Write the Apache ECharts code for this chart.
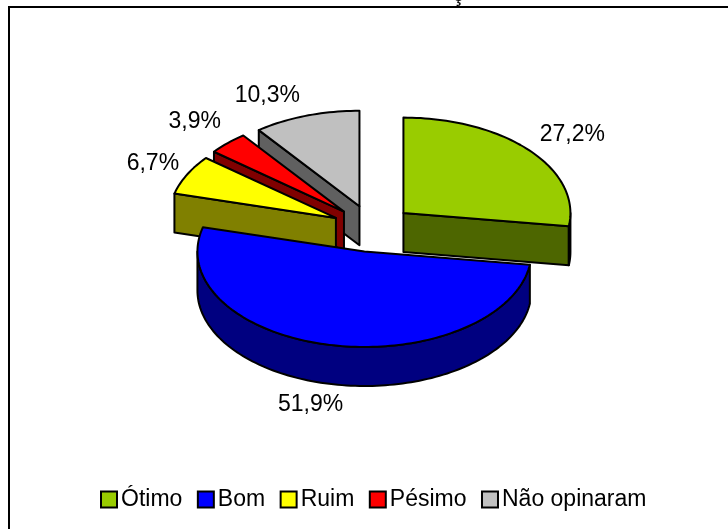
<!DOCTYPE html>
<html>
<head>
<meta charset="utf-8">
<style>
  html, body { margin: 0; padding: 0; background: #fff; }
  #pic { width: 728px; height: 529px; }
</style>
<script src="https://cdn.jsdelivr.net/npm/echarts@6/dist/echarts.min.js"></script>
</head>
<body>
<div id="pic"></div>
<script>
var categories = ['Ótimo', 'Bom', 'Ruim', 'Pésimo', 'Não opinaram'];
var values = [27.2, 51.9, 6.7, 3.9, 10.3];
var labels = ['27,2%', '51,9%', '6,7%', '3,9%', '10,3%'];
var topColors = ['#99CC00', '#0000FF', '#FFFF00', '#FF0000', '#C0C0C0'];
var sideColors = ['#4D6600', '#000080', '#808000', '#800000', '#606060'];

// pie layout, worked out from the slice tips
var cx = 372.5, cy = 228.5, rx = 167, ry = 95.5, depth = 39, explode = 41;
// label shift from the rim point at the slice's middle angle
var labelShift = [[43, -16], [-21, 60], [-34, -11], [-33, -21], [-39, -20]];
var fontFamily = '"Liberation Sans", Arial, sans-serif';
var font = '23px ' + fontFamily;

var total = values.reduce(function (a, b) { return a + b; }, 0);
var starts = [];
var sum = 0;
values.forEach(function (v) {
    starts.push(sum / total * 360);
    sum += v;
});

function rad(d) { return d * Math.PI / 180; }

function apexOf(i) {
    var mid = rad(starts[i] + values[i] / total * 180);
    return [cx + explode * Math.sin(mid), cy - explode * Math.cos(mid) * ry / rx];
}

function rimPoint(apex, deg, down) {
    return [apex[0] + rx * Math.sin(rad(deg)), apex[1] - ry * Math.cos(rad(deg)) + (down || 0)];
}

function arcPoints(apex, from, to, down) {
    var pts = [];
    var n = Math.max(2, Math.ceil((to - from) / 1.5));
    for (var k = 0; k <= n; k++) {
        pts.push(rimPoint(apex, from + (to - from) * k / n, down));
    }
    return pts;
}

function poly(points, fill) {
    return {
        type: 'polygon',
        shape: { points: points },
        style: { fill: fill, stroke: '#000', lineWidth: 2, lineJoin: 'round' }
    };
}

function radialWall(apex, deg, fill) {
    var p = rimPoint(apex, deg);
    return poly([apex, p, [p[0], p[1] + depth], [apex[0], apex[1] + depth]], fill);
}

function drawSlice(i, value) {
    var start = starts[i];
    var end = start + value / total * 360;
    var apex = apexOf(i);
    var kids = [];

    // only the faces turned to the viewer are drawn
    if (Math.sin(rad(start)) < -0.001) kids.push(radialWall(apex, start, sideColors[i]));
    if (Math.sin(rad(end)) > 0.001) kids.push(radialWall(apex, end, sideColors[i]));

    var a = Math.max(start, 90), b = Math.min(end, 270);
    if (b > a) {
        kids.push(poly(arcPoints(apex, a, b, 0).concat(arcPoints(apex, a, b, depth).reverse()), sideColors[i]));
    }
    kids.push(poly([apex].concat(arcPoints(apex, start, end, 0)), topColors[i]));

    var mid = rimPoint(apex, (start + end) / 2);
    kids.push({
        type: 'text',
        z2: 10,
        style: {
            x: mid[0] + labelShift[i][0],
            y: mid[1] + labelShift[i][1],
            text: labels[i],
            font: font,
            fill: '#000',
            align: 'center',
            verticalAlign: 'middle'
        }
    });
    return { type: 'group', children: kids };
}

// back slices first
var order = categories.map(function (c, i) { return i; }).sort(function (p, q) {
    return apexOf(p)[1] - apexOf(q)[1];
});

var series = categories.map(function (name, i) {
    return {
        name: name,
        type: 'custom',
        coordinateSystem: 'none',
        silent: true,
        animation: false,
        z: 2 + order.indexOf(i),
        itemStyle: { color: topColors[i] },
        data: [values[i]],
        renderItem: function (params, api) {
            return drawSlice(i, api.value(0));
        }
    };
});

var myChart = echarts.init(document.getElementById('pic'), null, { renderer: 'canvas' });
myChart.setOption({
    animation: false,
    backgroundColor: '#fff',
    graphic: [{
        type: 'rect',
        silent: true,
        shape: { x: 9, y: 7, width: 800, height: 600 },
        style: { fill: 'none', stroke: '#000', lineWidth: 2 }
    }, {
        // the title is cut off by the top of the picture, only this tail shows
        type: 'text',
        silent: true,
        style: { x: 458, y: 6, text: 'ç', font: font, fill: '#000', align: 'center', verticalAlign: 'bottom' }
    }],
    legend: {
        data: categories,
        left: 100,
        top: 488,
        itemWidth: 16,
        itemHeight: 16,
        itemGap: 14.5,
        icon: 'rect',
        selectedMode: false,
        padding: 0,
        itemStyle: { borderColor: '#000', borderWidth: 2 },
        textStyle: { color: '#000', fontFamily: fontFamily, fontSize: 23, padding: [0, 0, 0, -1] }
    },
    series: series
});
</script>
</body>
</html>
